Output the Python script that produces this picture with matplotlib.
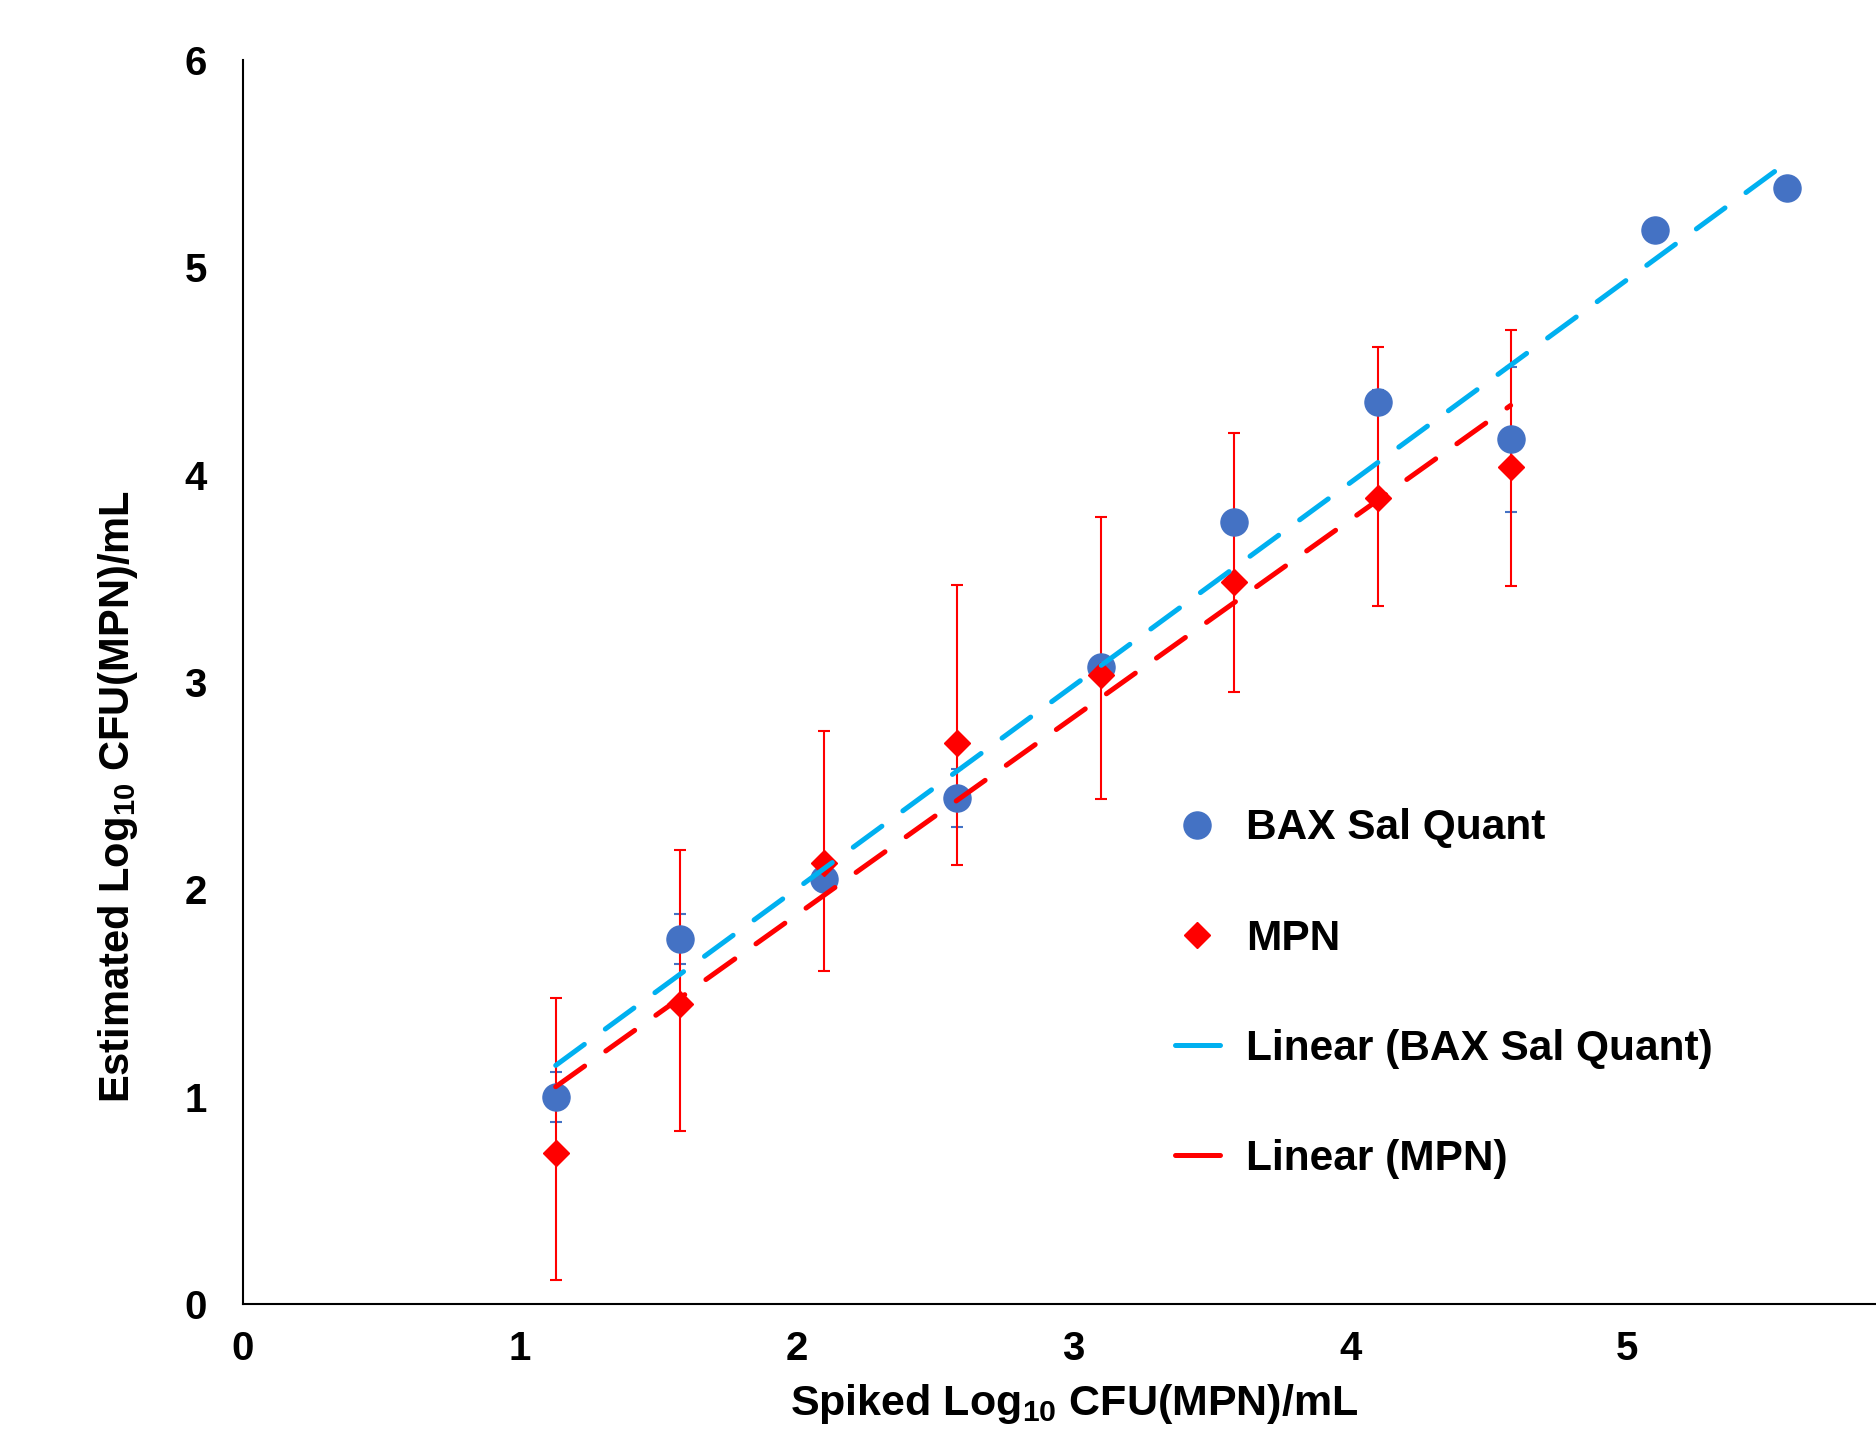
import numpy as np
import matplotlib
matplotlib.use("Agg")
import matplotlib.pyplot as plt
from matplotlib.lines import Line2D

plt.rcParams['font.family'] = ['Liberation Sans', 'DejaVu Sans']
plt.rcParams['font.weight'] = 'bold'
plt.rcParams['mathtext.fontset'] = 'custom'
plt.rcParams['mathtext.rm'] = 'Liberation Sans:bold'
plt.rcParams['mathtext.default'] = 'rm'

# Spiked levels (log10 CFU/mL)
bax_x = [1.13, 1.58, 2.10, 2.58, 3.10, 3.58, 4.10, 4.58, 5.10, 5.58]
bax_y = [1.00, 1.76, 2.05, 2.44, 3.07, 3.77, 4.35, 4.17, 5.18, 5.38]
bax_err = [0.12, 0.12, 0.04, 0.14, 0.03, 0.03, 0.06, 0.35, 0.0, 0.0]

mpn_x = [1.13, 1.58, 2.10, 2.58, 3.10, 3.58, 4.10, 4.58]
mpn_y = [0.727, 1.445, 2.125, 2.706, 3.035, 3.481, 3.887, 4.035]
mpn_err_up = [0.75, 0.745, 0.64, 0.76, 0.76, 0.72, 0.73, 0.66]
mpn_err_down = [0.61, 0.61, 0.52, 0.59, 0.60, 0.53, 0.52, 0.57]

blue = '#4472C4'
red = '#FF0000'
cyan = '#00B0F0'

fig = plt.figure(figsize=(18.76, 14.31), dpi=100)
ax = fig.add_axes([0.1295, 0.0887, 0.8705, 0.8695])

# error bars
ax.errorbar(mpn_x, mpn_y, yerr=[mpn_err_down, mpn_err_up], fmt='none',
            ecolor=red, elinewidth=1.5, capsize=4, capthick=1.5, zorder=2)
ax.errorbar(bax_x, bax_y, yerr=bax_err, fmt='none',
            ecolor=blue, elinewidth=1.2, capsize=4, capthick=1.5, zorder=1)

# points
ax.plot(bax_x, bax_y, 'o', color=blue, markersize=19.5, zorder=3)
ax.plot(mpn_x, mpn_y, 'D', color=red, markersize=13, zorder=4)

# linear trendlines
for xs, ys, col in [(bax_x, bax_y, cyan), (mpn_x, mpn_y, red)]:
    k, b = np.polyfit(xs, ys, 1)
    xx = np.array([min(xs), max(xs)])
    ax.plot(xx, k * xx + b, color=col, lw=3.6, dashes=(7.1, 5.2),
            dash_capstyle='round', zorder=5)

ax.set_xlim(0, 5.9)
ax.set_ylim(0, 6)
ax.set_xticks([0, 1, 2, 3, 4, 5])
ax.set_yticks([0, 1, 2, 3, 4, 5, 6])
ax.tick_params(axis='x', length=0, pad=19, labelsize=29)
ax.tick_params(axis='y', length=0, pad=26, labelsize=29)

for s in ['top', 'right']:
    ax.spines[s].set_visible(False)
for s in ['left', 'bottom']:
    ax.spines[s].set_linewidth(1.5)

ax.set_xlabel(r'Spiked Log$_{10}$ CFU(MPN)/mL', fontsize=31, fontweight='bold')
ax.set_ylabel(r'Estimated Log$_{10}$ CFU(MPN)/mL', fontsize=30, fontweight='bold')
ax.xaxis.set_label_coords(0.509, -0.0627)
ax.yaxis.set_label_coords(-0.063, 0.4075)

handles = [
    Line2D([], [], ls='none', marker='o', color=blue, markersize=19.5),
    Line2D([], [], ls='none', marker='D', color=red, markersize=13),
    Line2D([], [], color=cyan, lw=3.6, solid_capstyle='round'),
    Line2D([], [], color=red, lw=3.6, solid_capstyle='round'),
]
labels = ['BAX Sal Quant', 'MPN', 'Linear (BAX Sal Quant)', 'Linear (MPN)']
fig.legend(handles, labels, loc='center left', bbox_to_anchor=(0.6263, 0.3055),
           frameon=False, fontsize=30.5, handlelength=1.06, handletextpad=0.62,
           labelspacing=1.66, borderpad=0, borderaxespad=0)

fig.savefig('out.png', dpi=100)
